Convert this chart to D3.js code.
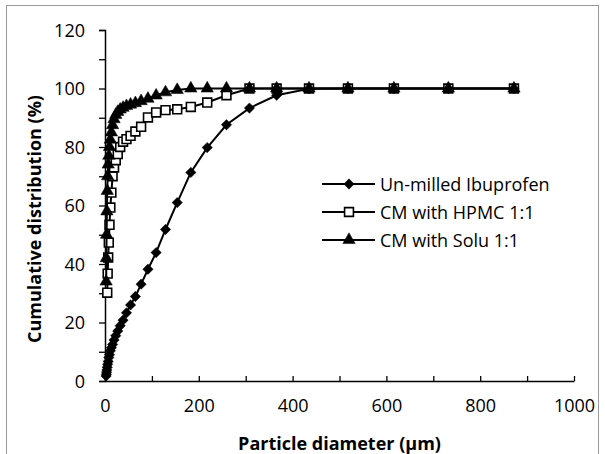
<!DOCTYPE html>
<html>
<head>
<meta charset="utf-8">
<script src="https://cdn.jsdelivr.net/npm/d3@7"></script>
<style>
  html, body { margin: 0; padding: 0; background: #fff; }
  svg { display: block; }
  text { font-family: "Open Sans", "Liberation Sans", sans-serif; fill: #000; }
</style>
</head>
<body>
<svg id="chart" width="605" height="454"></svg>
<script>
// Particle size classes (µm) and cumulative distribution (%) per sample
const unmilledX = [2.4, 2.9, 3.4, 4.0, 4.8, 5.7, 6.8, 8.1, 9.6, 11.4, 13.6, 16.2, 19.3, 22.9, 27.2, 32.4, 38.5, 45.8, 54.5, 64.8, 77.0, 91.6, 109, 129, 154, 183, 218, 259, 308, 366, 435, 518, 616, 732, 872];
const unmilledY = [1.7, 2.3, 3.0, 3.8, 4.7, 5.7, 6.7, 8.0, 9.0, 10.3, 11.4, 12.5, 14.0, 15.5, 17.1, 18.9, 20.8, 23.3, 26.0, 28.9, 33.1, 38.2, 43.9, 51.8, 61.0, 71.3, 79.8, 87.6, 93.3, 97.7, 99.9, 100, 100, 100, 100];

const hpmcX = [4.8, 5.7, 6.8, 8.1, 9.6, 11.4, 13.6, 16.2, 19.3, 22.9, 27.2, 32.4, 38.5, 45.8, 54.5, 64.8, 77.0, 91.6, 109, 129, 154, 183, 218, 259, 308, 366, 435, 518, 616, 732, 872];
const hpmcY = [30.2, 36.7, 42.2, 47.3, 53.4, 59.3, 64.4, 70.0, 73.0, 75.5, 77.6, 80.0, 81.8, 82.7, 83.8, 85.3, 86.9, 90.1, 91.8, 92.6, 92.9, 93.7, 95.2, 97.7, 100, 100, 100, 100, 100, 100, 100];

const soluX = [2.4, 2.9, 3.4, 4.0, 4.8, 5.7, 6.8, 8.1, 9.6, 11.4, 13.6, 16.2, 19.3, 22.9, 27.2, 32.4, 38.5, 45.8, 54.5, 64.8, 77.0, 91.6, 109, 129, 154, 183, 218, 259, 308, 366, 435, 518, 616, 732, 872];
const soluY = [34, 42, 50, 58, 65, 70, 74, 77, 80, 82.5, 85, 87.5, 89.5, 91, 92, 92.8, 93.4, 94, 94.5, 95, 95.7, 96.5, 97.6, 98.7, 99.5, 100, 100, 100, 100, 100, 100, 100, 100, 100, 100];

const seriesNames = ["Un-milled Ibuprofen", "CM with HPMC 1:1", "CM with Solu 1:1"];
const xTickValues = [0, 100, 200, 300, 400, 500, 600, 700, 800, 900, 1000];
const yTickValues = [0, 10, 20, 30, 40, 50, 60, 70, 80, 90, 100, 110, 120];
const xTitle = "Particle diameter (µm)";
const yTitle = "Cumulative distribution (%)";

const svg = d3.select("#chart");

// outer chart frame
svg.append("rect")
  .attr("x", 6.5).attr("y", 5.5)
  .attr("width", 592).attr("height", 470)
  .attr("fill", "none").attr("stroke", "#9a9a9a").attr("stroke-width", 1);

const x = d3.scaleLinear().domain([0, 1000]).range([105, 574]);
const y = d3.scaleLinear().domain([0, 120]).range([381, 30]);

// y axis: ticks every 10 pointing outwards, labels every 20
const yAxis = svg.append("g")
  .attr("transform", `translate(${x(0)},0)`)
  .call(d3.axisLeft(y).tickValues(yTickValues).tickSize(6).tickPadding(14)
    .tickFormat(d => d % 20 === 0 ? d : ""));
yAxis.select(".domain").attr("stroke", "#000").attr("stroke-width", 1.5);
yAxis.selectAll(".tick line").attr("stroke", "#000").attr("stroke-width", 1.3);
yAxis.selectAll(".tick text").attr("font-size", 18).attr("dy", "0.34em");

// x axis: ticks every 100 pointing inwards, labels every 200
const xAxis = svg.append("g")
  .attr("transform", `translate(0,${y(0)})`)
  .call(d3.axisBottom(x).tickValues(xTickValues).tickSizeInner(-5).tickSizeOuter(0).tickPadding(18)
    .tickFormat(d => d % 200 === 0 ? d : ""));
xAxis.select(".domain").attr("stroke", "#000").attr("stroke-width", 1.5);
xAxis.selectAll(".tick line").attr("stroke", "#000").attr("stroke-width", 1.3);
xAxis.selectAll(".tick text").attr("font-size", 18).attr("dy", "0.71em");

// axis titles
svg.append("text")
  .attr("x", (x(0) + x(1000)) / 2).attr("y", 443)
  .attr("text-anchor", "middle").attr("dominant-baseline", "central")
  .attr("font-size", 18).attr("font-weight", "bold")
  .text(xTitle);

svg.append("text")
  .attr("transform", "translate(34,219) rotate(-90)")
  .attr("text-anchor", "middle").attr("dominant-baseline", "central")
  .attr("font-size", 18).attr("font-weight", "bold")
  .text(yTitle);

const line = d3.line().x(d => x(d[0])).y(d => y(d[1]));

const diamond = d3.symbol().type(d3.symbolDiamond2).size(68);
const square = d3.symbol().type(d3.symbolSquare).size(78);
const triangle = d3.symbol().type(d3.symbolTriangle).size(66);

const series = [
  { name: seriesNames[0], xs: unmilledX, ys: unmilledY, marker: diamond, fill: "#000", stroke: "#000", sw: 0.5 },
  { name: seriesNames[1], xs: hpmcX, ys: hpmcY, marker: square, fill: "#fff", stroke: "#000", sw: 1.6 },
  { name: seriesNames[2], xs: soluX, ys: soluY, marker: triangle, fill: "#000", stroke: "#000", sw: 0.5 }
];

series.forEach(s => {
  const pts = s.xs.map((v, i) => [v, s.ys[i]]);
  const g = svg.append("g");
  g.append("path")
    .attr("d", line(pts))
    .attr("fill", "none").attr("stroke", "#000").attr("stroke-width", 2);
  g.selectAll("path.m").data(pts).join("path")
    .attr("class", "m")
    .attr("transform", d => `translate(${x(d[0])},${y(d[1])})`)
    .attr("d", s.marker())
    .attr("fill", s.fill).attr("stroke", s.stroke).attr("stroke-width", s.sw);
});

// legend
const legend = svg.append("g");
series.forEach((s, i) => {
  const ly = 184 + i * 28;
  legend.append("line")
    .attr("x1", 322).attr("x2", 375).attr("y1", ly).attr("y2", ly)
    .attr("stroke", "#000").attr("stroke-width", 2);
  legend.append("path")
    .attr("transform", `translate(349,${ly})`)
    .attr("d", s.marker())
    .attr("fill", s.fill).attr("stroke", s.stroke).attr("stroke-width", s.sw);
  legend.append("text")
    .attr("x", 380).attr("y", ly)
    .attr("dominant-baseline", "central")
    .attr("font-size", 18)
    .text(s.name);
});
</script>
</body>
</html>
